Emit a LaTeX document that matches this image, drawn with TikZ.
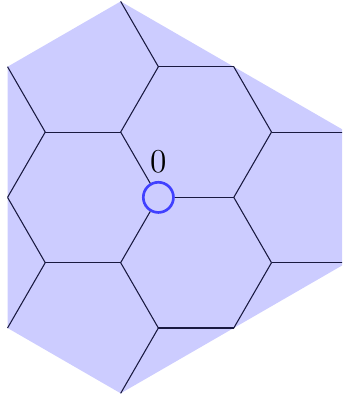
\documentclass[tikz,border=0pt]{standalone}
\definecolor{latfill}{rgb}{0.8,0.8,1}
\definecolor{latline}{rgb}{0.1,0.1,0.25}
\definecolor{origin}{rgb}{0.25,0.25,1}
\tikzset{
  edge/.style={draw=latline, line width=0.4pt},
  origindot/.style={circle, draw=origin, line width=1pt, fill=latfill, minimum size=0.4cm, inner sep=0pt},
  lab/.style={font=\fontsize{12.6}{15}\selectfont, inner sep=0pt}
}
\begin{document}
\begin{tikzpicture}
\def\h{0.8660254}
\useasboundingbox (-2.10,-2.70) rectangle (2.436,2.617);
\clip (-2.10,-2.70) rectangle (2.436,2.617);
% fill region
\fill[latfill] (-2,2*\h) -- (-0.5,3*\h) -- (2.5,\h) -- (2.5,-\h) -- (-0.5,-3*\h) -- (-2,-2*\h) -- cycle;
% lattice vertices
\coordinate (t)  at (-0.5,3*\h);
\coordinate (b)  at (-0.5,-3*\h);
\coordinate (l2) at (-2,2*\h);
\coordinate (l0) at (-2,0);
\coordinate (lm) at (-2,-2*\h);
\coordinate (a1) at (-1.5,\h);
\coordinate (a2) at (-0.5,\h);
\coordinate (a3) at (1.5,\h);
\coordinate (r1) at (2.5,\h);
\coordinate (c1) at (-1.5,-\h);
\coordinate (c2) at (-0.5,-\h);
\coordinate (c3) at (1.5,-\h);
\coordinate (r2) at (2.5,-\h);
\coordinate (u1) at (0,2*\h);
\coordinate (u2) at (1,2*\h);
\coordinate (d1) at (0,-2*\h);
\coordinate (d2) at (1,-2*\h);
\coordinate (m1) at (1,0);
\node[origindot] (o) at (0,0) {};
\node[lab] (olab) at (0,0.475) {0};
% edges
\draw[edge] (t) -- (u1);
\draw[edge] (l2) -- (a1);
\draw[edge] (a1) -- (a2);
\draw[edge] (a2) -- (u1);
\draw[edge] (u1) -- (u2);
\draw[edge] (u2) -- (a3);
\draw[edge] (a3) -- (r1);
\draw[edge] (a2) -- (o);
\draw[edge] (o) -- (m1);
\draw[edge] (m1) -- (a3);
\draw[edge] (m1) -- (c3);
\draw[edge] (c3) -- (r2);
\draw[edge] (a1) -- (l0);
\draw[edge] (l0) -- (c1);
\draw[edge] (c1) -- (c2);
\draw[edge] (c2) -- (o);
\draw[edge] (c1) -- (lm);
\draw[edge] (c2) -- (d1);
\draw[edge] (d1) -- (d2);
\draw[edge] (d2) -- (c3);
\draw[edge] (d1) -- (b);
\end{tikzpicture}
\end{document}
